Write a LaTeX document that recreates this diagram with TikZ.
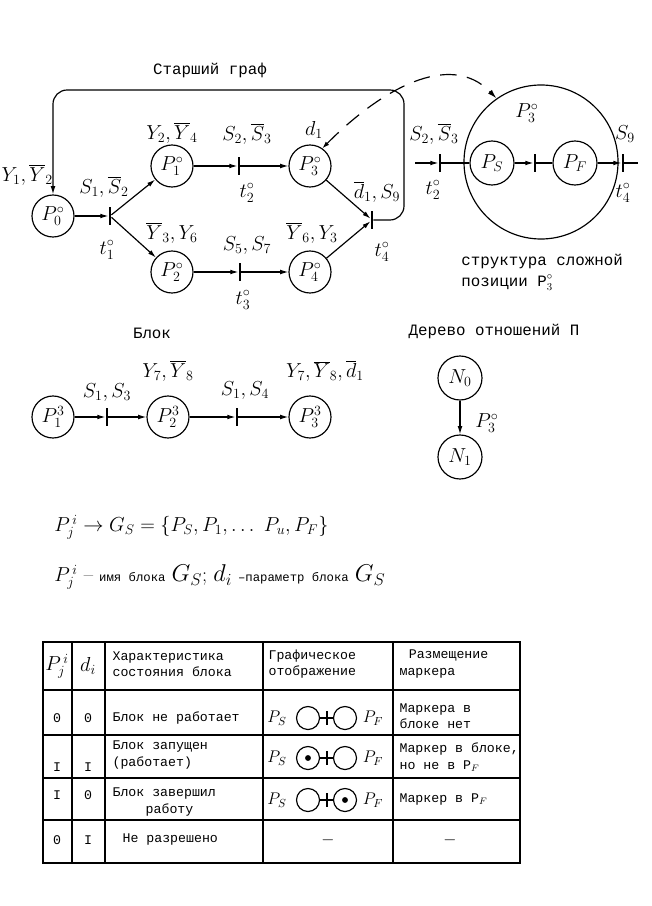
\documentclass[tikz,border=0pt]{standalone}
\usepackage[no-math]{fontspec}
\usetikzlibrary{arrows.meta,positioning}
\newfontfamily\typefont{Liberation Mono}

\begin{document}
\begin{tikzpicture}[x=0.03cm, y=-0.03cm,
    line width=1pt,
    place/.style={circle, draw, minimum size=1.26cm, inner sep=0pt, font=\LARGE},
    bigplace/.style={circle, draw, minimum size=4.62cm, inner sep=0pt},
    smallplace/.style={circle, draw, minimum size=0.69cm, inner sep=0pt},
    trans/.style={rectangle, draw, fill, minimum width=1.5pt, minimum height=0.5cm, inner sep=0pt},
    arc/.style={-{Latex[length=7pt,width=4pt]}},
    dashed link/.style={{Latex[length=6pt,width=4pt]}-{Latex[length=8pt,width=4.5pt]}, dash pattern=on 14pt off 9pt},
    lbl/.style={font=\LARGE, inner sep=1pt},
    typed/.style={font=\typefont\fontsize{13.5}{18}\selectfont},
    cell/.style={font=\typefont\fontsize{11.3}{14}\selectfont, align=left, inner sep=0pt}
]
    \useasboundingbox (0,0) rectangle (652,906);

    % senior graph
    \node[typed] (title) at (210,70) {Старший граф};
    \node[place] (p0) at (53,216) {$P_0^\circ$};
    \node[trans] (t1) at (110,216) {};
    \node[place] (p1) at (172,166) {$P_1^\circ$};
    \node[place] (p2) at (172,272) {$P_2^\circ$};
    \node[trans] (t2) at (239,166) {};
    \node[trans] (t3) at (240,272) {};
    \node[place] (p3) at (310,166) {$P_3^\circ$};
    \node[place] (p4) at (310,272) {$P_4^\circ$};
    \node[trans] (t4) at (372,220) {};
    \coordinate (loopcorner) at (404,90);

    \draw[arc] (p0) -- (t1);
    \draw[arc] (t1) -- (p1);
    \draw[arc] (t1) -- (p2);
    \draw[arc] (p1) -- (t2);
    \draw[arc] (t2) -- (p3);
    \draw[arc] (p2) -- (t3);
    \draw[arc] (t3) -- (p4);
    \draw[arc] (p3) -- (t4);
    \draw[arc] (p4) -- (t4);
    \draw[arc, rounded corners=12pt] (t4) -| (loopcorner) -| (p0);

    \node[lbl, anchor=west, inner sep=0pt] (y12) at (1,175) {$Y_1,\overline{Y}_2$};
    \node[lbl] (s12) at (104,187) {$S_1,\overline{S}_2$};
    \node[lbl] (t1lab) at (107,250) {$t_1^\circ$};
    \node[lbl] (y24) at (172,133) {$Y_2,\overline{Y}_4$};
    \node[lbl] (s23) at (247,134) {$S_2,\overline{S}_3$};
    \node[lbl] (t2lab) at (247,193) {$t_2^\circ$};
    \node[lbl] (d1) at (314,130) {$d_1$};
    \node[lbl] (d1s9) at (377,192) {$\overline{d}_1,S_9$};
    \node[lbl] (t4lab) at (382,252) {$t_4^\circ$};
    \node[lbl] (y36) at (172,233) {$\overline{Y}_3,Y_6$};
    \node[lbl] (s57) at (247,246) {$S_5,S_7$};
    \node[lbl] (t3lab) at (243,300) {$t_3^\circ$};
    \node[lbl] (y63) at (312,233) {$\overline{Y}_6,Y_3$};

    % complex position P3
    \node[bigplace] (big) at (541,162) {};
    \node[lbl] (bigname) at (527,113) {$P_3^\circ$};
    \node[place, minimum size=1.32cm] (ps) at (492,163) {$P_S$};
    \node[place, minimum size=1.32cm] (pf) at (575,163) {$P_F$};
    \node[trans] (tin) at (440,163) {};
    \node[trans] (tmid) at (535,163) {};
    \node[trans] (tout) at (623,163) {};
    \coordinate (inflow) at (415,163);
    \coordinate (outflow) at (638,163);
    \draw[arc] (inflow) -- (tin);
    \draw (tin) -- (ps);
    \draw[arc] (ps) -- (tmid);
    \draw (tmid) -- (pf);
    \draw[arc] (pf) -- (tout);
    \draw (tout) -- (outflow);
    \draw[dashed link] (p3.55) .. controls (380,90) and (450,50) .. (big.125);

    \node[lbl] (bs23) at (434,134) {$S_2,\overline{S}_3$};
    \node[lbl] (bt2lab) at (433,190) {$t_2^\circ$};
    \node[lbl] (bs9) at (625,134) {$S_9$};
    \node[lbl] (bt4lab) at (623,193) {$t_4^\circ$};
    \node[typed, align=left, anchor=west] (bigcap) at (457,272) {структура сложной\\позиции P$_3^\circ$};

    % block
    \node[typed] (blocktitle) at (152,333) {Блок};
    \node[place] (b1) at (53,417) {$P_1^3$};
    \node[trans] (bt1) at (107,417) {};
    \node[place] (b2) at (168,417) {$P_2^3$};
    \node[trans] (bt2) at (237,417) {};
    \node[place] (b3) at (310,417) {$P_3^3$};
    \draw[arc] (b1) -- (bt1);
    \draw[arc] (bt1) -- (b2);
    \draw[arc] (b2) -- (bt2);
    \draw[arc] (bt2) -- (b3);
    \node[lbl] (bs13) at (107,393) {$S_1,S_3$};
    \node[lbl] (by78) at (168,371) {$Y_7,\overline{Y}_8$};
    \node[lbl] (bs14) at (245,391) {$S_1,S_4$};
    \node[lbl] (by78d) at (325,371) {$Y_7,\overline{Y}_8,\overline{d}_1$};

    % relation tree
    \node[typed] (treetitle) at (494,332) {Дерево отношений П};
    \node[place, minimum size=1.32cm] (n0) at (460,378) {$N_0$};
    \node[place, minimum size=1.32cm] (n1) at (460,457) {$N_1$};
    \draw[arc] (n0) -- (n1);
    \node[lbl] (treelab) at (487,423) {$P_3^\circ$};

    % formulas
    \node[anchor=west, font=\LARGE] (mapping) at (50,527) {$P_j^{\,i} \rightarrow G_S = \{P_S, P_1, \ldots\ P_u, P_F\}$};
    \node[anchor=west, font=\LARGE] (meaning) at (50,577) {$P_j^{\,i}$ -- {\typefont\fontsize{10.5}{12}\selectfont имя блока} {\huge$G_S$}; {\huge$d_i$} {\typefont\fontsize{10.5}{12}\selectfont –параметр блока} {\huge$G_S$}};

    % table
    \draw (43,642) rectangle (520,863);
    \foreach \x in {72,105,263,393} \draw (\x,642) -- (\x,863);
    \foreach \y in {690,735,778,820} \draw (43,\y) -- (520,\y);

    \node[font=\LARGE] (hp) at (57,666) {$P_j^{\,i}$};
    \node[font=\LARGE] (hd) at (88,666) {$d_i$};
    \node[cell, anchor=west] (hchar) at (112,664) {Характеристика\\состояния блока};
    \node[cell, anchor=west] (hgraph) at (268,664) {Графическое\\отображение};
    \node[cell, anchor=west] (hmark) at (399,664) {\hspace*{0.7em}Размещение\\маркера};

    \node[cell] (r1p) at (57,718) {0};
    \node[cell] (r1d) at (88,718) {0};
    \node[cell, anchor=west] (r1c) at (112,718) {Блок не работает};
    \node[cell, anchor=west] (r1m) at (399,716) {Маркера в\\блоке нет};

    \node[cell] (r2p) at (57,767) {I};
    \node[cell] (r2d) at (88,767) {I};
    \node[cell, anchor=west] (r2c) at (112,755) {Блок запущен\\(работает)};
    \node[cell, anchor=west] (r2m) at (399,757) {Маркер в блоке,\\но не в P$_F$};

    \node[cell] (r3p) at (57,795) {I};
    \node[cell] (r3d) at (88,795) {0};
    \node[cell, anchor=west] (r3c) at (112,802) {Блок завершил\\\hspace*{2.5em}работу};
    \node[cell, anchor=west] (r3m) at (399,800) {Маркер в P$_F$};

    \node[cell] (r4p) at (57,840) {0};
    \node[cell] (r4d) at (88,840) {I};
    \node[cell, anchor=west] (r4c) at (122,840) {Не разрешено};
    \node[font=\Large] (r4g) at (328,840) {$-$};
    \node[font=\Large] (r4m) at (450,840) {$-$};

    \foreach \y [count=\r] in {718,758,800} {
        \node[font=\Large] (gs\r) at (277,\y) {$P_S$};
        \node[smallplace] (gl\r) at (308,\y) {};
        \node[trans, minimum height=0.36cm] (gt\r) at (327,\y) {};
        \node[smallplace] (gr\r) at (345,\y) {};
        \node[font=\Large] (gf\r) at (373,\y) {$P_F$};
        \draw (gl\r) -- (gt\r) -- (gr\r);
    }
    \fill (gl2.center) circle (2.5pt);
    \fill (gr3.center) circle (2.5pt);
\end{tikzpicture}
\end{document}
